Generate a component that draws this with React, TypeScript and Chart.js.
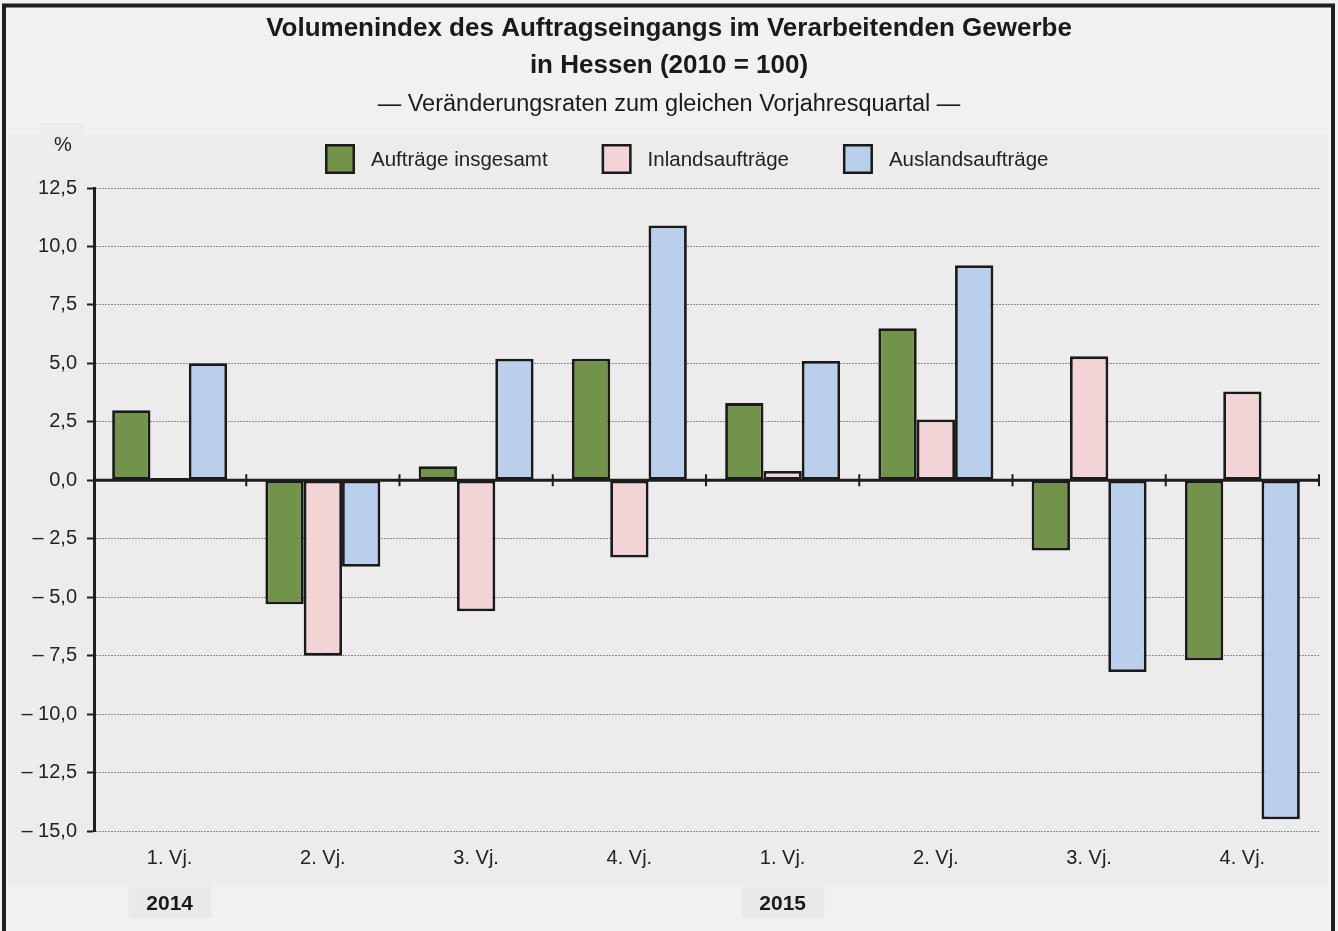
import React, { useEffect, useRef } from 'react';
import { Chart, registerables } from 'chart.js';

Chart.register(...registerables);

const FONT = "'Liberation Sans', Arial, Helvetica, sans-serif";
const WIDTH = 1338;
const HEIGHT = 931;

const quarterLabels = ['1. Vj.', '2. Vj.', '3. Vj.', '4. Vj.', '1. Vj.', '2. Vj.', '3. Vj.', '4. Vj.'];
const yearLabels = ['2014', '', '', '', '2015', '', '', ''];
const seriesLabels = ['Aufträge insgesamt', 'Inlandsaufträge', 'Auslandsaufträge'];
const seriesColors = ['#72944a', '#f2d3d6', '#b9cfec'];
const totalOrders = [3.0, -5.3, 0.6, 5.2, 3.3, 6.5, -3.0, -7.7];
const domesticOrders = [0.1, -7.5, -5.6, -3.3, 0.4, 2.6, 5.3, 3.8];
const foreignOrders = [5.0, -3.7, 5.2, 10.9, 5.1, 9.2, -8.2, -14.5];
const titleLines = ['Volumenindex des Auftragseingangs im Verarbeitenden Gewerbe', 'in Hessen (2010 = 100)'];
const subtitleText = '— Veränderungsraten zum gleichen Vorjahresquartal —';
const yUnit = '%';
const yMin = -15;
const yMax = 12.5;
const yStep = 2.5;

function formatTick(v: number): string {
  const s = Math.abs(v).toFixed(1).replace('.', ',');
  return v < -1e-9 ? '– ' + s : s;
}

const decorPlugin = {
  id: 'decor',
  beforeDraw(chart: any) {
    const { ctx, chartArea, scales } = chart;
    ctx.save();
    ctx.fillStyle = '#f1f1f1';
    ctx.fillRect(0, 0, chart.width, chart.height);
    const bandTop = chartArea.top - 53;
    const bandBottom = scales.x.bottom;
    ctx.fillStyle = '#ececec';
    ctx.fillRect(8, bandTop, chartArea.right + 9 - 8, bandBottom - bandTop);
    ctx.fillRect(chartArea.left - 53, bandTop - 12, 45, 12);
    const ys = scales.year;
    ctx.fillStyle = '#e9e9e9';
    yearLabels.forEach((t, i) => {
      if (!t) return;
      const x = ys.getPixelForTick(i);
      ctx.fillRect(x - 41, ys.top + 1, 83, 31);
    });
    ctx.restore();
  },
  afterDatasetsDraw(chart: any) {
    const { ctx, chartArea, scales } = chart;
    const xs = scales.x;
    const y0 = scales.y.getPixelForValue(0);
    ctx.save();
    ctx.strokeStyle = '#1e1e1e';
    ctx.lineWidth = 3;
    ctx.beginPath();
    ctx.moveTo(chartArea.left, y0);
    ctx.lineTo(chartArea.right, y0);
    ctx.moveTo(chartArea.left + 1.5, chartArea.top - 1);
    ctx.lineTo(chartArea.left + 1.5, chartArea.bottom + 1);
    ctx.stroke();
    const n = quarterLabels.length;
    const step = xs.getPixelForValue(1) - xs.getPixelForValue(0);
    ctx.lineWidth = 2;
    ctx.beginPath();
    for (let i = 1; i <= n; i++) {
      const bx = xs.getPixelForValue(i - 1) + step / 2;
      ctx.moveTo(bx, y0 - 6);
      ctx.lineTo(bx, y0 + 6);
    }
    ctx.stroke();
    ctx.restore();
  },
  afterDraw(chart: any) {
    const { ctx, chartArea } = chart;
    ctx.save();
    // unit label
    ctx.font = `20px ${FONT}`;
    ctx.fillStyle = '#222';
    ctx.textAlign = 'center';
    ctx.textBaseline = 'middle';
    ctx.fillText(yUnit, chartArea.left - 30, chartArea.top - 43);
    // legend
    ctx.font = `20.5px ${FONT}`;
    const cy = chartArea.top - 29;
    let x = chartArea.left + 232;
    ctx.textAlign = 'left';
    chart.data.datasets.forEach((ds: any) => {
      ctx.fillStyle = ds.backgroundColor;
      ctx.fillRect(x, cy - 15, 30, 30);
      ctx.strokeStyle = '#1a1a1a';
      ctx.lineWidth = 2.5;
      ctx.strokeRect(x + 1.25, cy - 13.75, 27.5, 27.5);
      ctx.fillStyle = '#222';
      ctx.fillText(ds.label, x + 46, cy + 1);
      x += 46 + ctx.measureText(ds.label).width + 54;
    });
    // frame
    ctx.strokeStyle = '#1e1e1e';
    ctx.lineWidth = 4;
    ctx.strokeRect(4, 5.5, chart.width - 9, chart.height + 20);
    ctx.restore();
  },
};

export default function App() {
  const canvasRef = useRef<HTMLCanvasElement | null>(null);

  useEffect(() => {
    document.body.style.margin = '0';
    const canvas = canvasRef.current;
    if (!canvas) return;
    const series = [totalOrders, domesticOrders, foreignOrders];
    const chart = new Chart(canvas, {
      type: 'bar',
      data: {
        labels: quarterLabels,
        datasets: series.map((data, i) => ({
          label: seriesLabels[i],
          data,
          backgroundColor: seriesColors[i],
          borderColor: '#1a1a1a',
          borderWidth: 2.8,
          borderSkipped: false,
          categoryPercentage: 0.75,
          barPercentage: 1,
        })),
      },
      plugins: [decorPlugin],
      options: {
        responsive: false,
        animation: false,
        devicePixelRatio: 1,
        layout: { padding: 0 },
        plugins: {
          legend: { display: false },
          tooltip: { enabled: false },
          title: {
            display: true,
            text: titleLines,
            color: '#1a1a1a',
            font: { family: FONT, size: 26, weight: 'bold', lineHeight: '37px' },
            padding: { top: 10, bottom: 2 },
          },
          subtitle: {
            display: true,
            text: subtitleText,
            color: '#1a1a1a',
            font: { family: FONT, size: 23.5, lineHeight: '26px' },
            padding: { top: 6, bottom: 70 },
          },
        },
        scales: {
          x: {
            type: 'category',
            position: 'bottom',
            offset: true,
            grid: { display: false, drawTicks: false },
            border: { display: false },
            ticks: { font: { family: FONT, size: 20 }, color: '#222', padding: 15, maxRotation: 0, autoSkip: false },
            afterFit: (s: any) => { s.height = 55; },
          },
          year: {
            type: 'category',
            position: 'bottom',
            labels: yearLabels,
            offset: true,
            weight: 1,
            grid: { display: false, drawTicks: false },
            border: { display: false },
            ticks: { font: { family: FONT, size: 21, weight: 'bold' }, color: '#1a1a1a', padding: 6, maxRotation: 0, autoSkip: false },
            afterFit: (s: any) => { s.height = 45; },
          },
          y: {
            type: 'linear',
            min: yMin,
            max: yMax,
            ticks: {
              stepSize: yStep,
              callback: (v: any) => formatTick(Number(v)),
              font: { family: FONT, size: 20 },
              color: '#222',
              padding: 10,
            },
            grid: { color: '#8a8a8a', lineWidth: 1, tickColor: '#1e1e1e', tickLength: 6, tickWidth: 2, tickBorderDash: [] },
            border: { display: false, dash: [2, 1] },
            afterFit: (s: any) => { s.width = 93; },
          },
          pad: {
            type: 'linear',
            position: 'right',
            display: true,
            grid: { display: false, drawTicks: false },
            border: { display: false },
            ticks: { display: false },
            afterFit: (s: any) => { s.width = 19; },
          },
        },
      } as any,
    });
    return () => chart.destroy();
  }, []);

  return (
    <div style={{ width: WIDTH, height: HEIGHT, position: 'relative' }}>
      <canvas ref={canvasRef} width={WIDTH} height={HEIGHT} style={{ display: 'block' }} />
    </div>
  );
}
